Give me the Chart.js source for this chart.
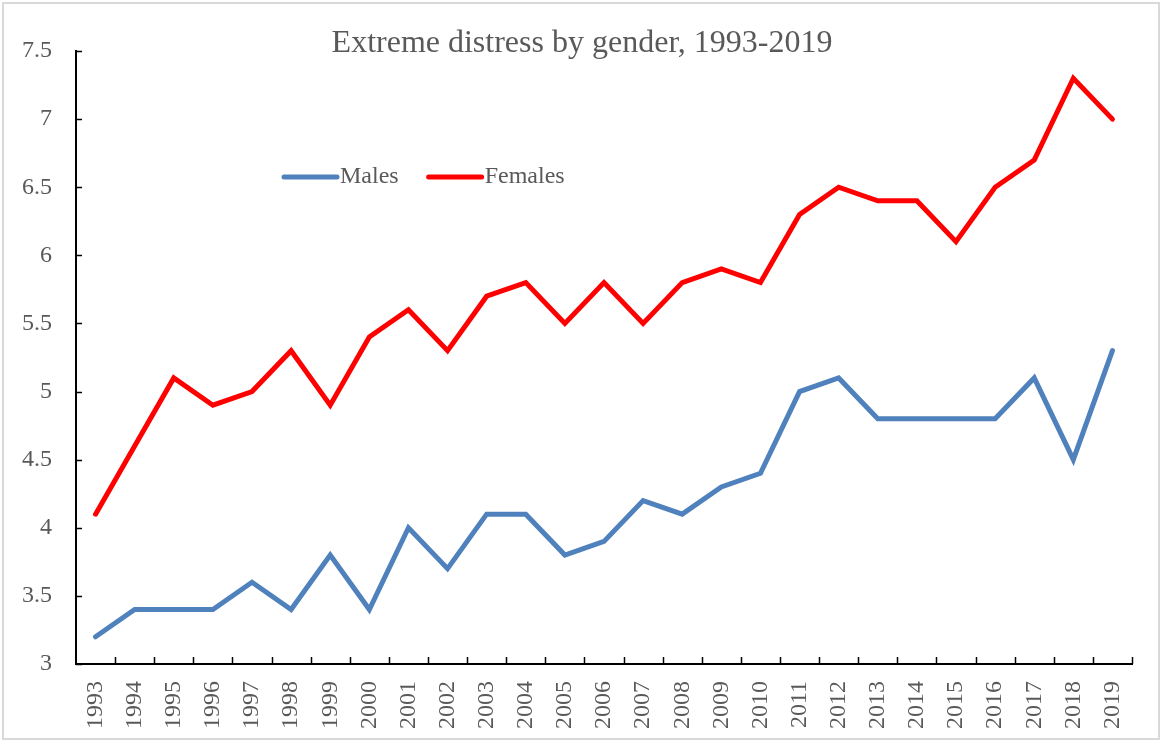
<!DOCTYPE html>
<html>
<head>
<meta charset="utf-8">
<script src="https://cdn.jsdelivr.net/npm/chart.js@4.4.1/dist/chart.umd.min.js"></script>
<style>
  html, body { margin: 0; padding: 0; background: #fff; }
  #wrap { width: 1162px; height: 742px; }
</style>
</head>
<body>
<div id="wrap"><canvas id="mychart" width="1162" height="742"></canvas></div>
<script>
const years = [
  "1993", "1994", "1995", "1996", "1997", "1998", "1999", "2000", "2001",
  "2002", "2003", "2004", "2005", "2006", "2007", "2008", "2009", "2010",
  "2011", "2012", "2013", "2014", "2015", "2016", "2017", "2018", "2019",
];
const males = [
  3.2, 3.4, 3.4, 3.4, 3.6, 3.4, 3.8, 3.4, 4.0, 3.7, 4.1, 4.1, 3.8, 3.9,
  4.2, 4.1, 4.3, 4.4, 5.0, 5.1, 4.8, 4.8, 4.8, 4.8, 5.1, 4.5, 5.3,
];
const females = [
  4.1, 4.6, 5.1, 4.9, 5.0, 5.3, 4.9, 5.4, 5.6, 5.3, 5.7, 5.8, 5.5, 5.8,
  5.5, 5.8, 5.9, 5.8, 6.3, 6.5, 6.4, 6.4, 6.1, 6.5, 6.7, 7.3, 7.0,
];
const titleText = "Extreme distress by gender, 1993-2019";

const serif = "'Liberation Serif', 'Times New Roman', serif";
const grey = "#595959";

// border, title, legend and inside tick marks, Excel style
const excelBits = {
  id: "excelBits",
  beforeDraw(chart) {
    const c = chart.ctx;
    c.save();
    c.fillStyle = "#fff";
    c.fillRect(0, 0, chart.width, chart.height);
    c.strokeStyle = "#d9d9d9";
    c.lineWidth = 2;
    c.strokeRect(3, 3, chart.width - 6, chart.height - 6);
    c.restore();
  },
  afterDraw(chart) {
    const c = chart.ctx;
    const area = chart.chartArea;
    const y = chart.scales.y;
    c.save();
    // axis ticks
    c.strokeStyle = "#000";
    c.lineWidth = 1.5;
    c.beginPath();
    y.ticks.forEach((t, i) => {
      const py = Math.round(y.getPixelForTick(i)) + 0.5;
      c.moveTo(area.left, py);
      c.lineTo(area.left + 6, py);
    });
    const step = (area.right - area.left) / years.length;
    for (let i = 1; i <= years.length; i++) {
      const px = Math.round(area.left + step * i) + 0.5;
      c.moveTo(px, area.bottom);
      c.lineTo(px, area.bottom - 7);
    }
    c.stroke();
    // title
    c.fillStyle = grey;
    c.font = "32px " + serif;
    c.textAlign = "center";
    c.textBaseline = "middle";
    c.fillText(titleText, 582, 44);
    // legend
    c.font = "24px " + serif;
    c.textAlign = "left";
    let lx = 284;
    const ly = 177;
    chart.data.datasets.forEach((ds) => {
      c.strokeStyle = ds.borderColor;
      c.lineWidth = 5;
      c.lineCap = "round";
      c.beginPath();
      c.moveTo(lx, ly);
      c.lineTo(lx + 53, ly);
      c.stroke();
      c.fillText(ds.label, lx + 56, ly);
      lx += 56 + c.measureText(ds.label).width + 30;
    });
    c.restore();
  },
};

new Chart(document.getElementById("mychart").getContext("2d"), {
  type: "line",
  data: {
    labels: years,
    datasets: [
      {
        label: "Males",
        data: males,
        borderColor: "#4f81bd",
        backgroundColor: "#4f81bd",
        borderWidth: 5,
        pointRadius: 0,
        borderCapStyle: "round",
        tension: 0,
      },
      {
        label: "Females",
        data: females,
        borderColor: "#ff0000",
        backgroundColor: "#ff0000",
        borderWidth: 5,
        pointRadius: 0,
        borderCapStyle: "round",
        tension: 0,
      },
    ],
  },
  options: {
    responsive: false,
    animation: false,
    devicePixelRatio: 1,
    layout: {
      padding: { top: 51, right: 30, bottom: 0, left: 0 },
    },
    plugins: {
      legend: { display: false },
      title: { display: false },
      tooltip: { enabled: false },
    },
    scales: {
      x: {
        offset: true,
        grid: { display: false, drawTicks: false },
        border: { display: true, color: "#000", width: 2 },
        ticks: {
          color: grey,
          font: { family: serif, size: 24 },
          minRotation: 90,
          maxRotation: 90,
          autoSkip: false,
          padding: 17,
        },
        afterFit(scale) {
          scale.height = 78;
        },
      },
      y: {
        min: 3,
        max: 7.5,
        grid: { display: false, drawTicks: false },
        border: { display: true, color: "#000", width: 2 },
        ticks: {
          stepSize: 0.5,
          color: grey,
          font: { family: serif, size: 24 },
          padding: 24,
          callback: (v) => String(v),
        },
        afterFit(scale) {
          scale.width = 76;
        },
      },
    },
  },
  plugins: [excelBits],
});
</script>
</body>
</html>
